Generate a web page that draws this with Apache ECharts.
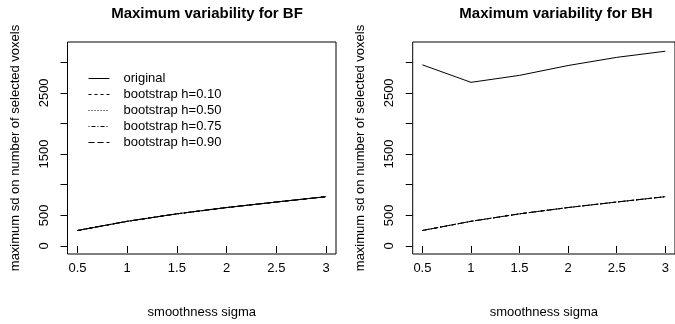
<!DOCTYPE html>
<html>
<head>
<meta charset="utf-8">
<script src="https://cdn.jsdelivr.net/npm/echarts@6/dist/echarts.min.js"></script>
<style>
  html, body { margin: 0; padding: 0; background: #fff; }
  #chart { width: 675px; height: 324px; }
</style>
</head>
<body>
<div id="chart"></div>
<script>
// smoothness sigma values
var sigma = [0.5, 1, 1.5, 2, 2.5, 3];

// BF panel
var bfOriginal = [252, 402, 524, 627, 717, 804];
var bfH010 = [252, 402, 524, 627, 717, 804];
var bfH050 = [252, 402, 524, 627, 717, 804];
var bfH075 = [252, 402, 524, 627, 717, 804];
var bfH090 = [252, 402, 524, 627, 717, 804];

// BH panel
var bhOriginal = [2958, 2672, 2786, 2947, 3080, 3180];
var bhH010 = [252, 402, 524, 627, 717, 804];
var bhH050 = [252, 402, 524, 627, 717, 804];
var bhH075 = [252, 402, 524, 627, 717, 804];
var bhH090 = [252, 402, 524, 627, 717, 804];

var seriesNames = ['original', 'bootstrap h=0.10', 'bootstrap h=0.50', 'bootstrap h=0.75', 'bootstrap h=0.90'];
var dashTypes = ['solid', [3, 3], [1, 2], [1, 2, 4, 2], [6, 3]];

var xTicks = [0.5, 1, 1.5, 2, 2.5, 3];
var yTicks = [0, 500, 1000, 1500, 2000, 2500, 3000];
var yLabels = [0, 500, 1500, 2500];

var FONT = 'Liberation Sans, Arial, Helvetica, sans-serif';

function pairs(xs, ys) {
    return xs.map(function (x, i) { return [x, ys[i]]; });
}

function makeX(idx) {
    return {
        type: 'value', gridIndex: idx, min: 0.4, max: 3.1,
        name: 'smoothness sigma', nameLocation: 'middle', nameGap: 52,
        nameTextStyle: { color: '#000', fontSize: 13, fontFamily: FONT },
        axisLine: { show: false },
        axisTick: { show: true, length: 7, inside: false, customValues: xTicks, lineStyle: { color: '#000' } },
        axisLabel: {
            customValues: xTicks, margin: 8, color: '#000', fontSize: 13, fontFamily: FONT,
            formatter: function (v) { return String(v); }
        },
        splitLine: { show: false }
    };
}

function makeY(idx) {
    return {
        type: 'value', gridIndex: idx, min: -132, max: 3331,
        name: 'maximum sd on number of selected voxels', nameLocation: 'middle', nameGap: 46,
        nameRotate: 90,
        nameTextStyle: { color: '#000', fontSize: 13, fontFamily: FONT },
        axisLine: { show: false },
        axisTick: { show: true, length: 7, inside: false, customValues: yTicks, lineStyle: { color: '#000' } },
        axisLabel: {
            customValues: yLabels, rotate: 90, margin: 17, color: '#000', fontSize: 13, fontFamily: FONT,
            formatter: function (v) { return String(v); }
        },
        splitLine: { show: false }
    };
}

function makeSeries(idx, dataList) {
    return dataList.map(function (d, k) {
        return {
            name: seriesNames[k], type: 'line', xAxisIndex: idx, yAxisIndex: idx,
            data: pairs(sigma, d), symbol: 'none', silent: true,
            lineStyle: { color: '#000', width: 1, type: dashTypes[k] },
            itemStyle: { color: '#000' }
        };
    });
}

var chart = echarts.init(document.getElementById('chart'), null, { renderer: 'canvas' });

chart.setOption({
    animation: false,
    backgroundColor: '#fff',
    title: [
        { text: 'Maximum variability for BF', left: 202, top: 1, textAlign: 'center',
          textStyle: { fontSize: 15, fontWeight: 'bold', color: '#000', fontFamily: FONT } },
        { text: 'Maximum variability for BH', left: 551, top: 1, textAlign: 'center',
          textStyle: { fontSize: 15, fontWeight: 'bold', color: '#000', fontFamily: FONT } }
    ],
    legend: {
        data: seriesNames, orient: 'vertical', left: 88, top: 72, padding: 0,
        itemWidth: 21, itemHeight: 14, itemGap: 3,
        itemStyle: { color: 'transparent', borderWidth: 0, opacity: 0 },
        lineStyle: { width: 1, color: '#000' },
        textStyle: { color: '#000', fontSize: 13, fontFamily: FONT, padding: [0, 0, 0, 9] },
        selectedMode: false
    },
    grid: [
        { left: 67.5, top: 42, width: 268.5, height: 215.5, show: true, borderColor: '#000', borderWidth: 1 },
        { left: 412.7, top: 42, width: 268.5, height: 215.5, show: true, borderColor: '#000', borderWidth: 1 }
    ],
    xAxis: [makeX(0), makeX(1)],
    yAxis: [makeY(0), makeY(1)],
    series: makeSeries(0, [bfOriginal, bfH010, bfH050, bfH075, bfH090])
        .concat(makeSeries(1, [bhOriginal, bhH010, bhH050, bhH075, bhH090]))
});
</script>
</body>
</html>
